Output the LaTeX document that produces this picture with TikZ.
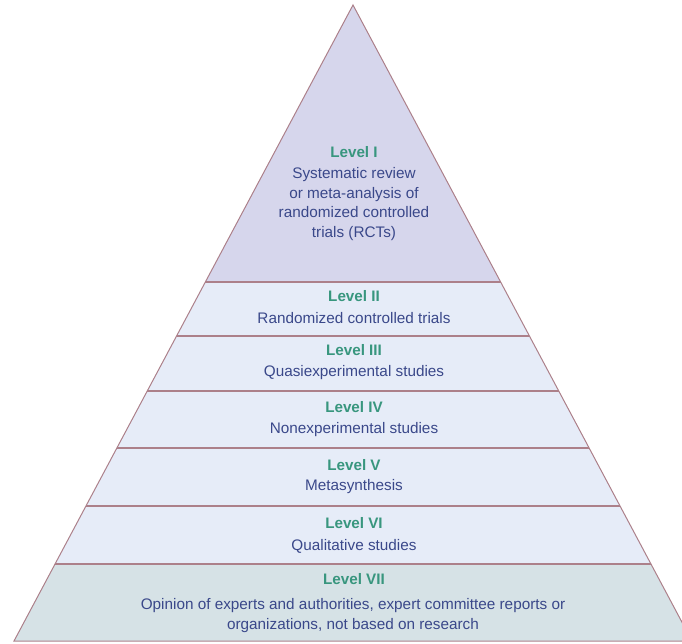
\documentclass[tikz,border=0pt]{standalone}
\usepackage{fontspec}
\setmainfont{Liberation Sans}
\definecolor{fillone}{RGB}{214,214,236}
\definecolor{fillmid}{RGB}{230,236,248}
\definecolor{fillseven}{RGB}{214,226,230}
\definecolor{edgecol}{RGB}{172,128,138}
\definecolor{levelcol}{RGB}{56,150,126}
\definecolor{desccol}{RGB}{58,72,138}
\tikzset{
  levellabel/.style={font=\fontsize{15.2}{17}\selectfont\bfseries, text=levelcol, inner sep=0pt, anchor=center},
  desctext/.style={font=\fontsize{15.3}{19.5}\selectfont, text=desccol, inner sep=0pt, align=center, anchor=center},
  bandline/.style={draw=edgecol, line width=1.3pt},
  edgeline/.style={draw=edgecol, line width=1pt}
}
\begin{document}
\begin{tikzpicture}[x=1pt,y=-1pt]
\useasboundingbox (0,0) rectangle (682,643);
\begin{scope}
  \clip (0,0) rectangle (682,643);
  \coordinate (apex) at (353,5);
  \coordinate (bl) at (14,641);
  \coordinate (br) at (692,641);
  \begin{scope}
    \clip (apex) -- (bl) -- (br) -- cycle;
    \fill[fillone] (0,0) rectangle (700,282);
    \fill[fillmid] (0,282) rectangle (700,564);
    \fill[fillseven] (0,564) rectangle (700,641);
    \foreach \yy in {282,336,391,448,506,564}
      \draw[bandline] (0,\yy) -- (700,\yy);
  \end{scope}
  \draw[edgeline, line join=miter] (apex) -- (bl) -- (br) -- cycle;
\end{scope}

\node[levellabel] (l1) at (354,152) {Level I};
\node[desctext] (d1) at (354,204) {Systematic review\\or meta-analysis of\\randomized controlled\\trials (RCTs)};

\node[levellabel] (l2) at (354,296) {Level II};
\node[desctext] (d2) at (354,318) {Randomized controlled trials};

\node[levellabel] (l3) at (354,350) {Level III};
\node[desctext] (d3) at (354,373) {Quasiexperimental studies};

\node[levellabel] (l4) at (354,407) {Level IV};
\node[desctext] (d4) at (354,430) {Nonexperimental studies};

\node[levellabel] (l5) at (354,465) {Level V};
\node[desctext] (d5) at (354,487) {Metasynthesis};

\node[levellabel] (l6) at (354,523) {Level VI};
\node[desctext] (d6) at (354,546) {Qualitative studies};

\node[levellabel] (l7) at (354,579) {Level VII};
\node[desctext, font=\fontsize{15.3}{20}\selectfont] (d7) at (353,616) {Opinion of experts and authorities, expert committee reports or\\organizations, not based on research};
\end{tikzpicture}
\end{document}
